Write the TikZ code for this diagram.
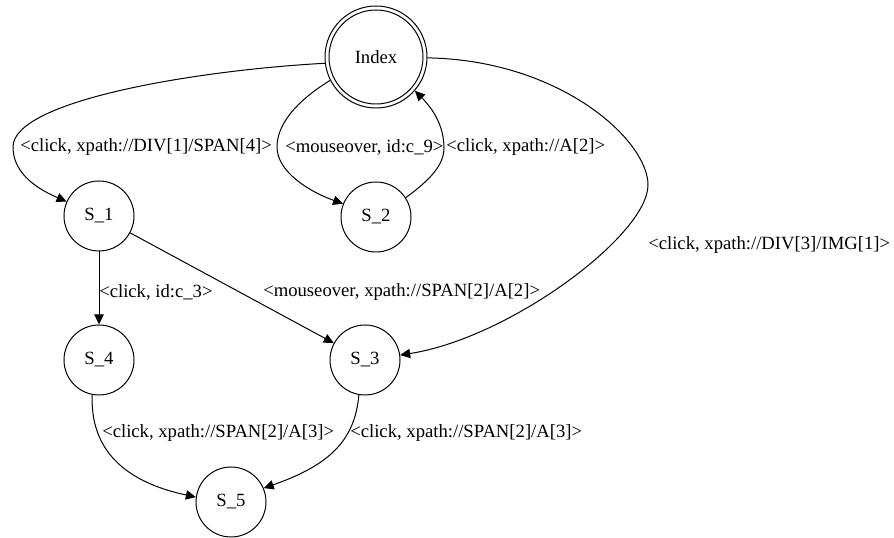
\documentclass[tikz,border=0pt]{standalone}
\usepackage{fontspec}
\setmainfont{Liberation Serif}
\usetikzlibrary{arrows.meta}
\begin{document}
\begin{tikzpicture}[x=0.75pt,y=-0.75pt,
  state/.style={circle,draw,line width=0.75pt,minimum size=52.5pt,inner sep=0pt,font=\fontsize{14pt}{16pt}\selectfont},
  edge/.style={line width=0.75pt,-{Triangle[length=7.5pt,width=7pt]}},
  lbl/.style={anchor=west,inner sep=0pt,font=\fontsize{14pt}{16pt}\selectfont}]
\useasboundingbox (0,0) rectangle (894,538);
\node[state,minimum size=76.5pt] (Index) at (376,57) {Index};
\draw[line width=0.75pt] (Index.center) circle[radius=35.25pt];
\node[state] (S1) at (99,216) {S\_1};
\node[state] (S2) at (376,217) {S\_2};
\node[state] (S4) at (99,360) {S\_4};
\node[state] (S3) at (365,360) {S\_3};
\node[state] (S5) at (231,502) {S\_5};

\draw[edge] (Index.187) .. controls (200,70) and (13,100) .. (13,147) .. controls (13,175) and (40,190) .. (S1.156);
\draw[edge] (Index.207.5) .. controls (295,102) and (277,125) .. (277,147) .. controls (277,172) and (310,192) .. (S2.158);
\draw[edge] (S2.33) .. controls (430,180) and (444,165) .. (444,148) .. controls (444,125) and (432,108) .. (Index.319);
\draw[edge] (Index.359) .. controls (560,60) and (648,140) .. (648,185) .. controls (648,235) and (510,338) .. (S3.8);
\draw[edge] (S1) -- (S4);
\draw[edge] (S1) -- (S3);
\draw[edge] (S4.259) .. controls (90,450) and (125,482) .. (S5.172);
\draw[edge] (S3.260) .. controls (355,440) and (330,465) .. (S5.23);

\node[lbl] (l1) at (20,147) {<click, xpath://DIV[1]/SPAN[4]>};
\node[lbl] (l2) at (285,147) {<mouseover, id:c\_9>};
\node[lbl] (l3) at (446,147) {<click, xpath://A[2]>};
\node[lbl] (l4) at (648,245) {<click, xpath://DIV[3]/IMG[1]>};
\node[lbl] (l5) at (99,292) {<click, id:c\_3>};
\node[lbl] (l6) at (263,292) {<mouseover, xpath://SPAN[2]/A[2]>};
\node[lbl] (l7) at (102,433) {<click, xpath://SPAN[2]/A[3]>};
\node[lbl] (l8) at (350,433) {<click, xpath://SPAN[2]/A[3]>};
\end{tikzpicture}
\end{document}
